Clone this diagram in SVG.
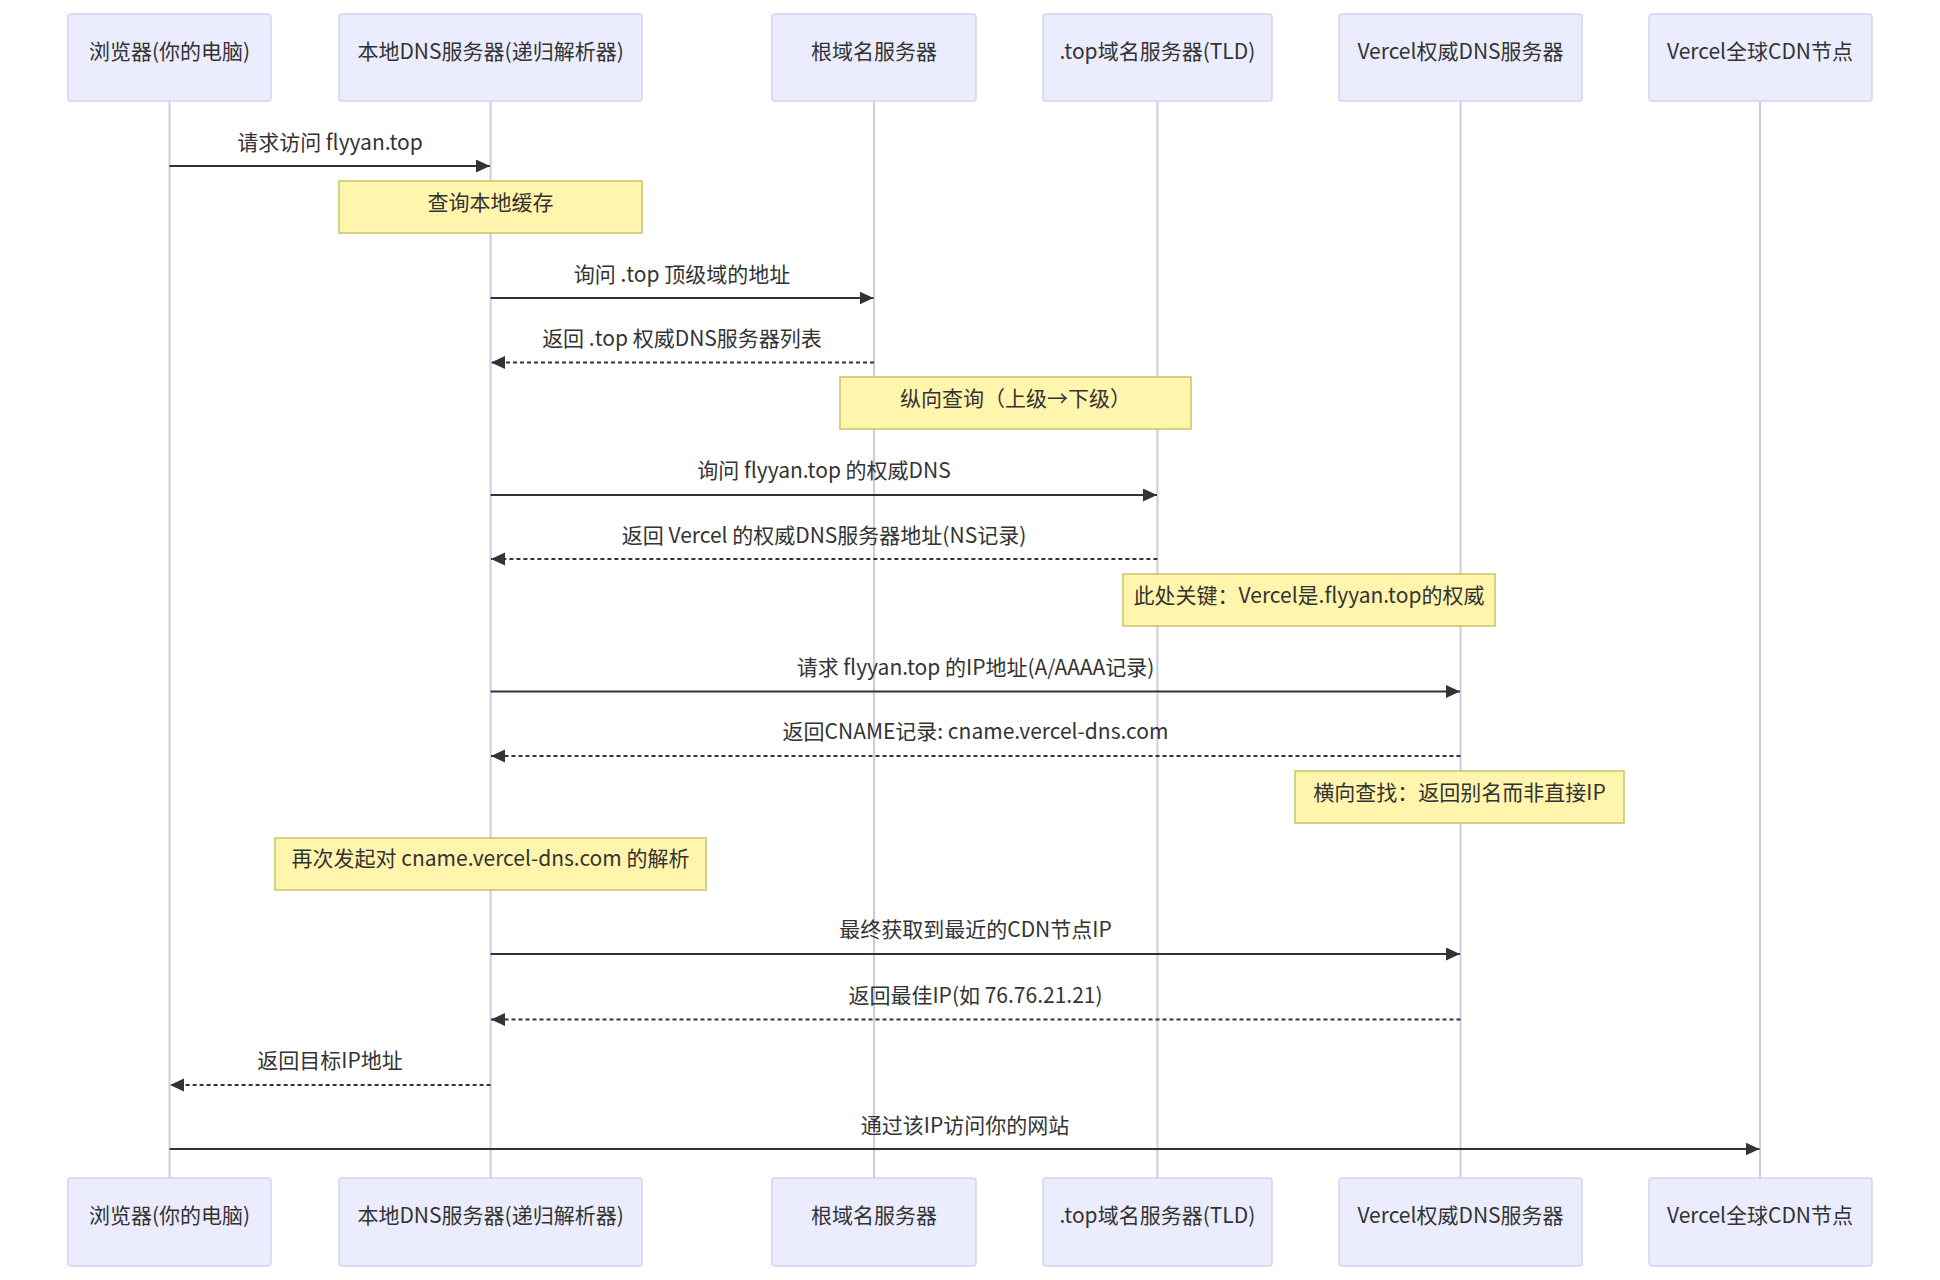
<svg xmlns="http://www.w3.org/2000/svg" width="1940" height="1280" viewBox="0 0 1940 1280">
<defs>
<style>
text{font-family:"Noto Sans CJK SC","Noto Sans",sans-serif;font-size:21px;fill:#333;text-anchor:middle;dominant-baseline:central}
.actor{fill:#ececff;stroke:#d4d4f2;stroke-width:1.5}
.life{stroke:#cbcbe8;stroke-width:2}
.note{fill:#fff5ad;stroke:#c9c36a;stroke-width:1.5}
.msg{stroke:#333;stroke-width:2.2;fill:none;marker-end:url(#arr)}
.dash{stroke-dasharray:4,3}
</style>
<marker id="arr" markerUnits="userSpaceOnUse" markerWidth="15" markerHeight="14" refX="14" refY="6.5" orient="auto">
<path d="M0,0 L14,6.5 L0,13 z" fill="#333"/>
</marker>
</defs>
<rect width="1940" height="1280" fill="#fff"/>
<g id="lifelines">
<line class="life" x1="169.5" y1="101" x2="169.5" y2="1178"/>
<line class="life" x1="490.6" y1="101" x2="490.6" y2="1178"/>
<line class="life" x1="874" y1="101" x2="874" y2="1178"/>
<line class="life" x1="1157.4" y1="101" x2="1157.4" y2="1178"/>
<line class="life" x1="1460.5" y1="101" x2="1460.5" y2="1178"/>
<line class="life" x1="1760" y1="101" x2="1760" y2="1178"/>
</g>
<g id="actor-browser">
<rect class="actor" x="68" y="14" width="203" height="87" rx="3"/><text x="169.5" y="49.5">浏览器(你的电脑)</text>
<rect class="actor" x="68" y="1178" width="203" height="88" rx="3"/><text x="169.5" y="1213.5">浏览器(你的电脑)</text>
</g>
<g id="actor-local">
<rect class="actor" x="339" y="14" width="303" height="87" rx="3"/><text x="490.6" y="49.5">本地DNS服务器(递归解析器)</text>
<rect class="actor" x="339" y="1178" width="303" height="88" rx="3"/><text x="490.6" y="1213.5">本地DNS服务器(递归解析器)</text>
</g>
<g id="actor-root">
<rect class="actor" x="772" y="14" width="204" height="87" rx="3"/><text x="874" y="49.5">根域名服务器</text>
<rect class="actor" x="772" y="1178" width="204" height="88" rx="3"/><text x="874" y="1213.5">根域名服务器</text>
</g>
<g id="actor-tld">
<rect class="actor" x="1043" y="14" width="229" height="87" rx="3"/><text x="1157.4" y="49.5">.top域名服务器(TLD)</text>
<rect class="actor" x="1043" y="1178" width="229" height="88" rx="3"/><text x="1157.4" y="1213.5">.top域名服务器(TLD)</text>
</g>
<g id="actor-vercel-dns">
<rect class="actor" x="1339" y="14" width="243" height="87" rx="3"/><text x="1460.5" y="49.5">Vercel权威DNS服务器</text>
<rect class="actor" x="1339" y="1178" width="243" height="88" rx="3"/><text x="1460.5" y="1213.5">Vercel权威DNS服务器</text>
</g>
<g id="actor-cdn">
<rect class="actor" x="1649" y="14" width="223" height="87" rx="3"/><text x="1760" y="49.5">Vercel全球CDN节点</text>
<rect class="actor" x="1649" y="1178" width="223" height="88" rx="3"/><text x="1760" y="1213.5">Vercel全球CDN节点</text>
</g>
<g id="notes">
<g id="note-cache"><rect class="note" x="339" y="181" width="303" height="52"/><text x="490.6" y="201">查询本地缓存</text></g>
<g id="note-vertical"><rect class="note" x="840" y="377" width="351" height="52"/><text x="1015.5" y="397">纵向查询（上级→下级）</text></g>
<g id="note-key"><rect class="note" x="1123" y="574" width="372" height="52"/><text x="1309" y="594">此处关键：Vercel是.flyyan.top的权威</text></g>
<g id="note-horizontal"><rect class="note" x="1295" y="771" width="329" height="52"/><text x="1459.5" y="791">横向查找：返回别名而非直接IP</text></g>
<g id="note-again"><rect class="note" x="275" y="838" width="431" height="52"/><text x="490.5" y="857">再次发起对 cname.vercel-dns.com 的解析</text></g>
</g>
<g id="connectors">
<line class="msg" x1="169.5" y1="166" x2="490" y2="166"/>
<text x="330" y="141">请求访问 flyyan.top</text>
<line class="msg" x1="490.6" y1="298" x2="873.5" y2="298"/>
<text x="682" y="273">询问 .top 顶级域的地址</text>
<line class="msg dash" x1="874" y1="362.5" x2="491" y2="362.5"/>
<text x="682" y="337">返回 .top 权威DNS服务器列表</text>
<line class="msg" x1="490.6" y1="495" x2="1157" y2="495"/>
<text x="824" y="469">询问 flyyan.top 的权威DNS</text>
<line class="msg dash" x1="1157.4" y1="559" x2="491" y2="559"/>
<text x="824" y="534">返回 Vercel 的权威DNS服务器地址(NS记录)</text>
<line class="msg" x1="490.6" y1="691.5" x2="1460" y2="691.5"/>
<text x="975.5" y="666">请求 flyyan.top 的IP地址(A/AAAA记录)</text>
<line class="msg dash" x1="1460.5" y1="756" x2="491" y2="756"/>
<text x="975.5" y="730">返回CNAME记录: cname.vercel-dns.com</text>
<line class="msg" x1="490.6" y1="954" x2="1460" y2="954"/>
<text x="975.5" y="928">最终获取到最近的CDN节点IP</text>
<line class="msg dash" x1="1460.5" y1="1019.5" x2="491" y2="1019.5"/>
<text x="975.5" y="994">返回最佳IP(如 76.76.21.21)</text>
<line class="msg dash" x1="490.6" y1="1085" x2="170" y2="1085"/>
<text x="330" y="1059">返回目标IP地址</text>
<line class="msg" x1="169.5" y1="1149" x2="1759.5" y2="1149"/>
<text x="965" y="1124">通过该IP访问你的网站</text>
</g>
</svg>
